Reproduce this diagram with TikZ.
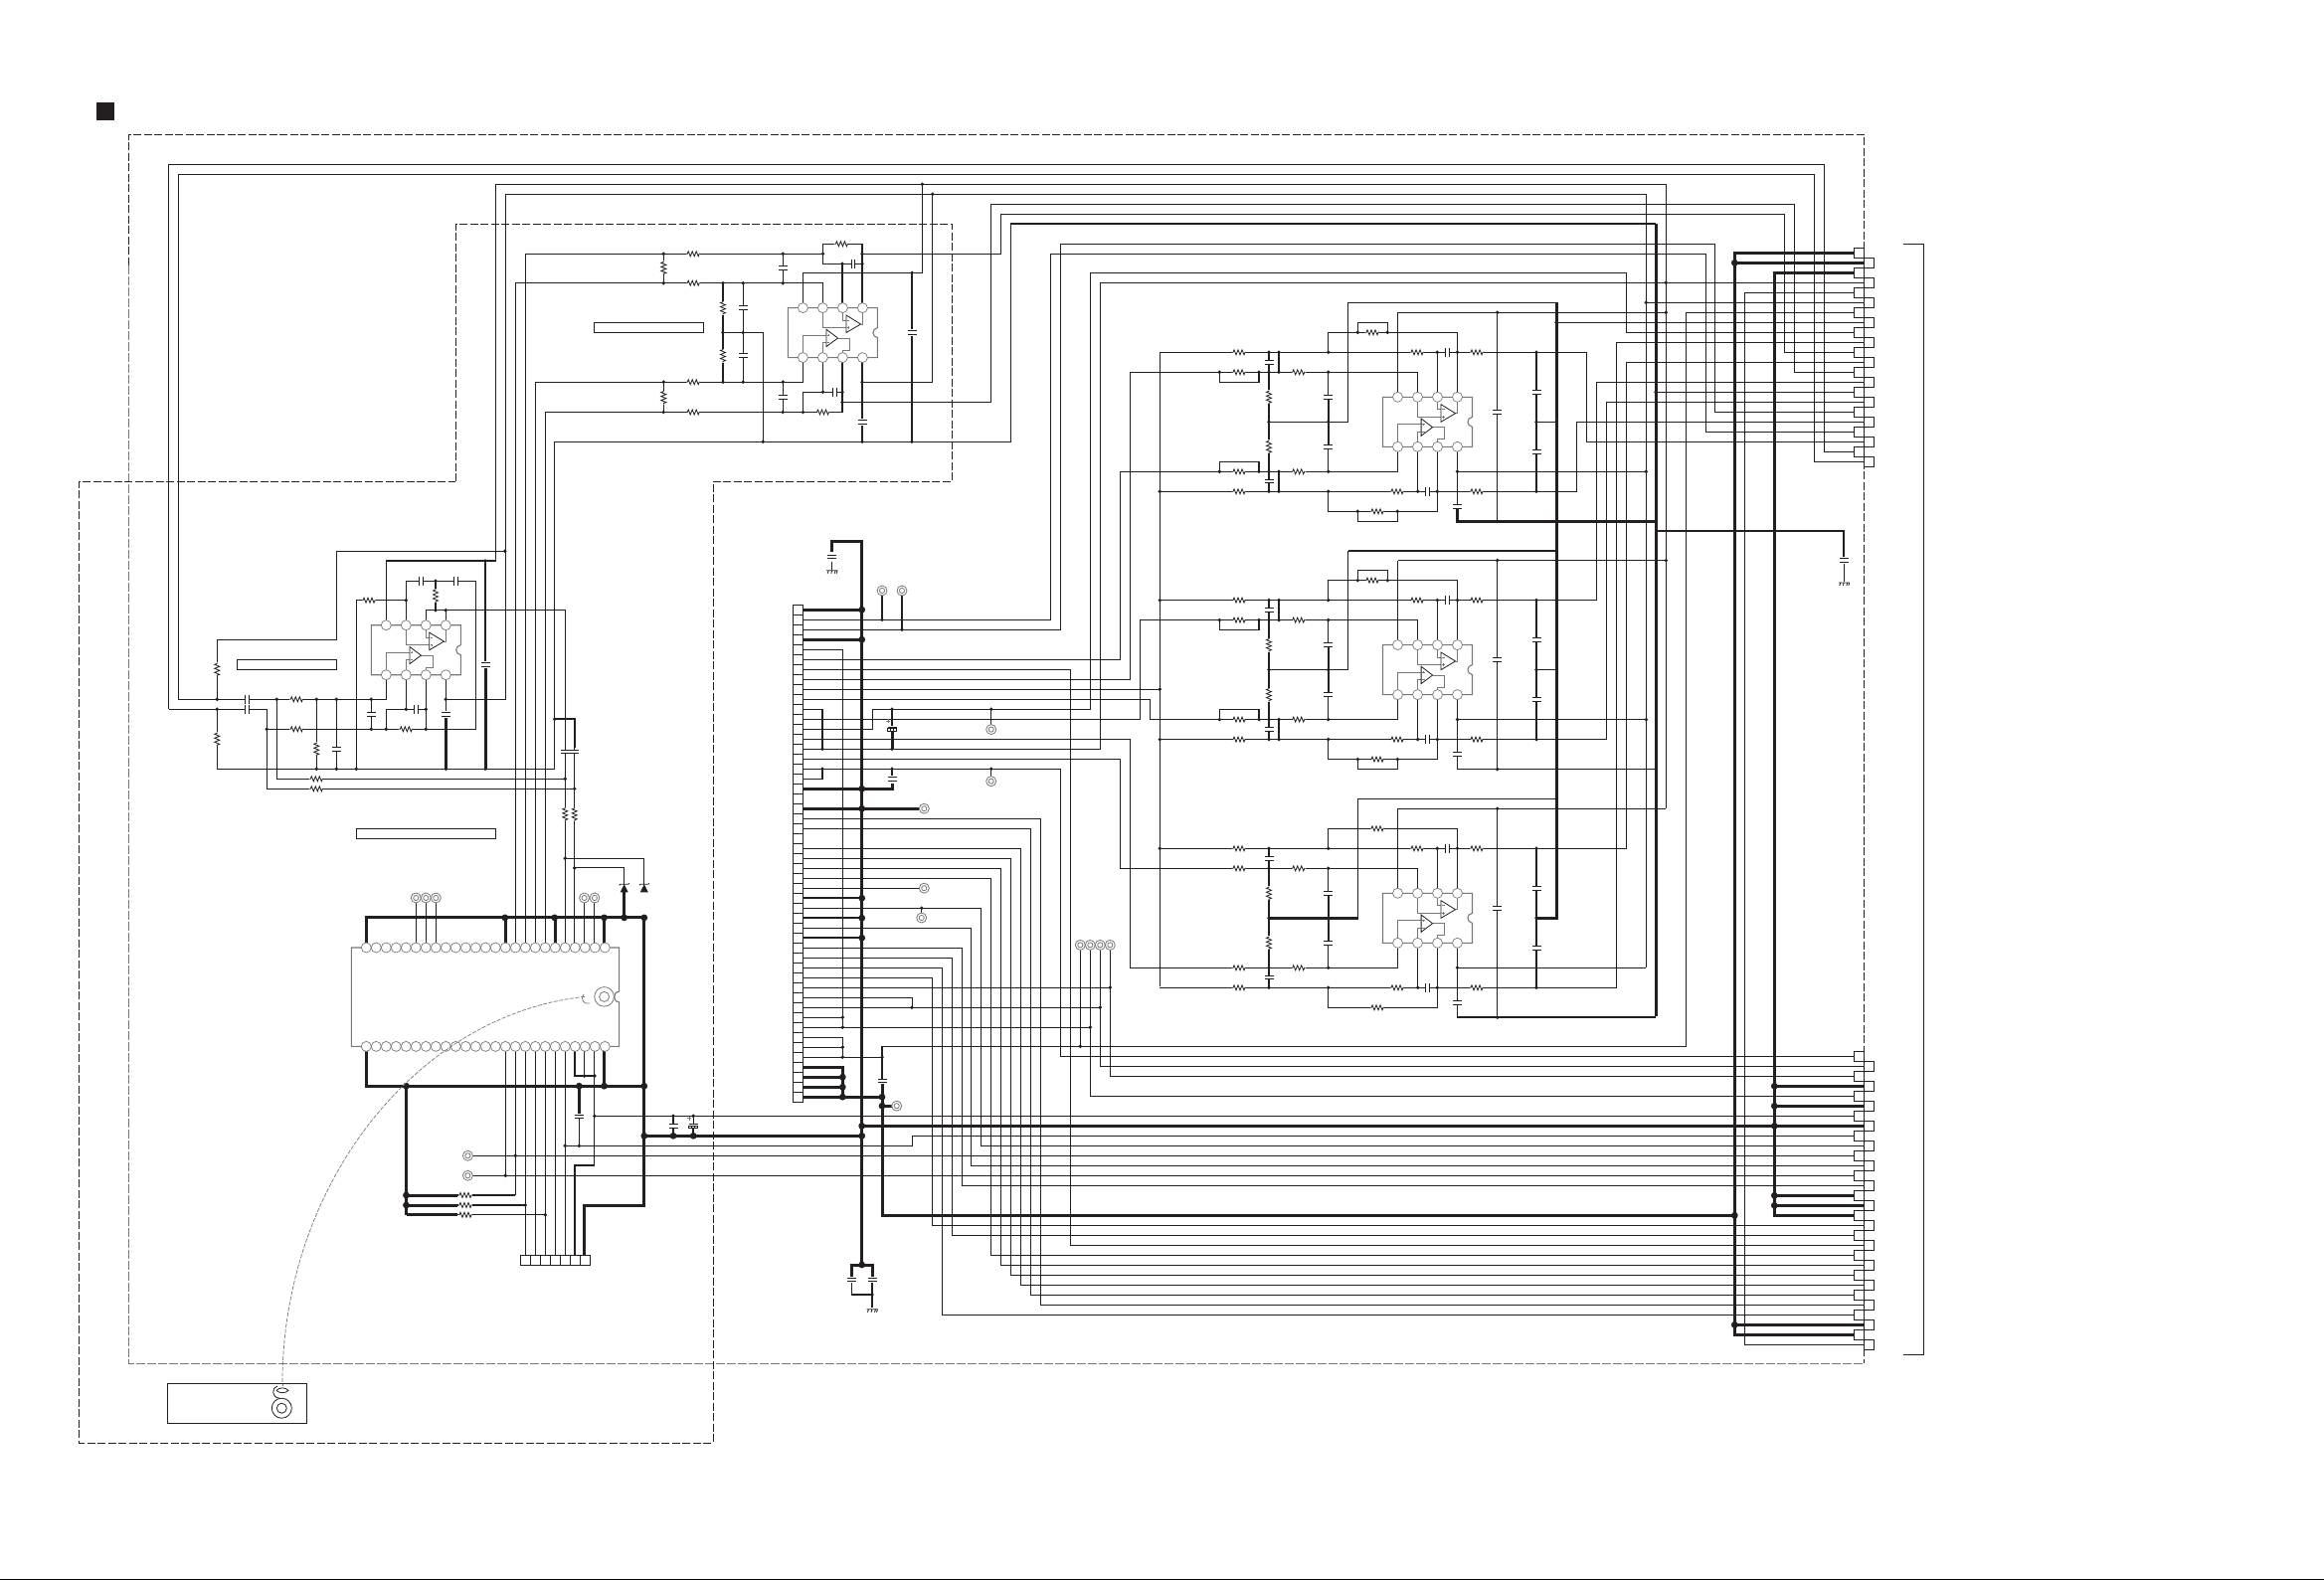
\documentclass[tikz,border=0pt]{standalone}
\definecolor{ink}{HTML}{231F20}
\definecolor{soft}{HTML}{77787B}
\tikzset{
 wire/.style={draw=ink,line width=1.1pt,line cap=square,line join=miter},
 wirem/.style={draw=ink,line width=1.8pt,line cap=square,line join=miter},
 wiret/.style={draw=ink,line width=3pt,line cap=square,line join=miter},
 comp/.style={draw=ink,line width=.8pt},
 capplate/.style={draw=ink,line width=1pt},
 soft line/.style={draw=soft,line width=.8pt},
 icbox/.style={draw=soft,line width=1.1pt,line join=miter},
 pinc/.style={circle,draw=soft,fill=white,line width=.7pt,inner sep=0pt,minimum size=10pt},
 dashd/.style={draw=ink,line width=.9pt,dash pattern=on 8pt off 2.5pt},
 dashg/.style={draw=soft,line width=1pt,dash pattern=on 9pt off 2pt},
 cell/.style={draw=ink,fill=white,line width=1pt},
}
\newcommand\Dots[1]{\foreach \a/\b in {#1}{\fill[ink] (\a,\b) circle (1.9pt);}}
\newcommand\Bdots[1]{\foreach \a/\b in {#1}{\fill[ink] (\a,\b) circle (3.4pt);}}
\newcommand\Rh[1]{\foreach \a/\b in {#1}{\begin{scope}[shift={(\a,\b)}]\fill[white] (-7,-1.2) rectangle (7,1.2);\draw[comp] (-7,0)--(-6,0)--(-5,-2.5)--(-3,2.5)--(-1,-2.5)--(1,2.5)--(3,-2.5)--(5,2.5)--(6,0)--(7,0);\end{scope}}}
\newcommand\Rv[1]{\foreach \a/\b in {#1}{\begin{scope}[shift={(\a,\b)}]\fill[white] (-1.2,-7) rectangle (1.2,7);\draw[comp] (0,-7)--(0,-6)--(-2.5,-5)--(2.5,-3)--(-2.5,-1)--(2.5,1)--(-2.5,3)--(2.5,5)--(0,6)--(0,7);\end{scope}}}
\newcommand\Cv[1]{\foreach \a/\b in {#1}{\begin{scope}[shift={(\a,\b)}]\fill[white] (-5,-1.6) rectangle (5,1.6);\draw[capplate] (-4.5,-1.8)--(4.5,-1.8) (-4.5,1.8)--(4.5,1.8);\end{scope}}}
\newcommand\Ch[1]{\foreach \a/\b in {#1}{\begin{scope}[shift={(\a,\b)}]\fill[white] (-1.6,-5) rectangle (1.6,5);\draw[capplate] (-1.8,-4.5)--(-1.8,4.5) (1.8,-4.5)--(1.8,4.5);\end{scope}}}
\newcommand\Cp[1]{\foreach \a/\b in {#1}{\begin{scope}[shift={(\a,\b)}]\fill[white] (-5,-2) rectangle (5,2);\draw[capplate] (-4.5,-2)--(4.5,-2);\draw[comp] (-4.5,2) rectangle (4.5,-.6) (-1.5,2)--(-1.5,-.6) (1.5,2)--(1.5,-.6);\draw[soft line] (-6,-8)--(-2,-8) (-4,-10)--(-4,-6);\end{scope}}}
\newcommand\TP[1]{\foreach \a/\b in {#1}{\filldraw[soft line,fill=white] (\a,\b) circle (5pt);\draw[soft line] (\a,\b) circle (2.6pt);}}
\newcommand\Gnd[1]{\foreach \a/\b in {#1}{\begin{scope}[shift={(\a,\b)}]\draw[comp] (-5.5,0)--(5.5,0) (-3.5,0)--(-4.5,3) (0,0)--(-1,3) (3.5,0)--(2.5,3) (5.5,0)--(4.5,3);\end{scope}}}
\newcommand\Zen[1]{\foreach \a/\b in {#1}{\begin{scope}[shift={(\a,\b)}]\fill[ink] (-4,4)--(4,4)--(0,-4)--cycle;\draw[comp] (-5,-3)--(-4,-4)--(4,-4)--(5,-5);\end{scope}}}
\newcommand\ICA[2]{\begin{scope}[shift={(#1,#2)}]
 \draw[icbox] (-15,0)--(75,0)--(75,20) .. controls (69,21) and (69,29) .. (75,30)--(75,50)--(-15,50)--cycle;
 \draw[soft line] (20,0)--(20,20)--(43.5,20) (40,0)--(40,12.4)--(43.5,12.4) (60,0)--(60,16.4)--(58.1,16.4);
 \draw[soft line] (0,50)--(0,27.4)--(23.6,27.4) (20,50)--(20,34.7)--(23.6,34.7) (35.1,30.4)--(47.3,30.4)--(47.3,42.4)--(40,42.4)--(40,50);
 \filldraw[comp,fill=white] (43.5,7.4)--(43.5,25)--(58.1,16.4)--cycle;
 \filldraw[comp,fill=white] (23.6,21.7)--(23.6,39)--(35.1,30.4)--cycle;
 \draw[soft line,line width=.5pt] (44.5,20)--(47,20) (45.7,18.8)--(45.7,21.2) (24.6,27.4)--(27,27.4) (25.8,26.2)--(25.8,28.6) (44.5,12.4)--(47,12.4) (24.6,34.7)--(27,34.7);
 \foreach \p in {0,20,40,60}{\node[pinc] at (\p,0) {};\node[pinc] at (\p,50) {};}
\end{scope}}
% one filter block; #1 = vertical offset, #2 = 1 for bypassed resistors, #3 = style of the bottom rail
\newcommand\Blk[3]{\begin{scope}[yshift=-#1pt]
 \draw[wire] (1166.3,354.3)--(1545,354.3) (1166.3,494.3)--(1545,494.3);
 \draw[wire] (1226.3,374.3)--(1425.7,374.3)--(1425.7,399.3);
 \draw[wire] (1226.3,474.3)--(1405.5,474.3)--(1405.5,449.3);
 \draw[wire] (1276,354.3)--(1276,494.3);
 \draw[wiret,line width=2.2pt] (1276,406)--(1276,443);
 \draw[wire] (1335.7,354.3)--(1335.7,334.3)--(1465.5,334.3)--(1465.5,399.3);
 \draw[wire] (1335.7,374.3)--(1335.7,474.3);
 \draw[wiret,line width=2.2pt] (1335.7,402)--(1335.7,447);
 \draw[wire] (1335.7,494.3)--(1335.7,514.3)--(1445.3,514.3)--(1445.3,449.3);
 \draw[wire] (1405.5,399.3)--(1405.5,314.3);
 \draw[wire] (1445.3,399.3)--(1445.3,354.3);
 \draw[wire] (1425.7,449.3)--(1425.7,494.3);
 \draw[wire] (1465.5,449.3)--(1465.5,512);
 \draw[wire] (1505.7,314.3)--(1505.7,524.3);
 \draw[wire] (1545,354.3)--(1545,494.3);
 \draw[wiret,line width=2.2pt] (1545,397)--(1545,451);
 \draw[wire] (1405.5,314.3)--(1675.3,314.3);
 \draw[wire] (1465.5,474.3)--(1655.3,474.3);
 \draw[#3] (1465.5,507)--(1465.5,524.3)--(1665,524.3);
 \ifnum#2=1
  \draw[wirem] (1286,354.3)--(1286,374.3) (1286,474.3)--(1286,494.3);
  \draw[wire] (1365.3,334.3)--(1365.3,324.3)--(1395.3,324.3)--(1395.3,334.3);
  \draw[wire] (1365.3,514.3)--(1365.3,524.3)--(1405.3,524.3)--(1405.3,514.3);
  \draw[wire] (1226.3,374.3)--(1226.3,384.3)--(1266,384.3)--(1266,374.3);
  \draw[wire] (1226.3,474.3)--(1226.3,464.3)--(1266,464.3)--(1266,474.3);
  \Dots{1286/354.3,1286/374.3,1286/474.3,1286/494.3,1365.3/334.3,1395.3/334.3,1365.3/514.3,1405.3/514.3,1226.3/374.3,1266/374.3,1226.3/474.3,1266/474.3}
  \Rh{1380/334.3}
 \else
  \Rh{1385/334.3}
 \fi
 \Dots{1276/354.3,1335.7/354.3,1445.3/354.3,1465.5/354.3,1545/354.3,1276/374.3,1335.7/374.3,1276/424.3,1335.7/424.3,1545/424.3,1276/474.3,1335.7/474.3,1465.5/474.3,1276/494.3,1335.7/494.3,1425.7/494.3,1445.3/494.3,1545/494.3,1505.7/314.3,1505.7/524.3}
 \Rh{1246/354.3,1425/354.3,1485/354.3,1246/374.3,1305.7/374.3,1246/474.3,1305.7/474.3,1246/494.3,1405/494.3,1485/494.3,1385/514.3}
 \Rv{1276/399.3,1276/449.3}
 \Cv{1276/364.3,1276/484,1335.7/399.3,1335.7/449.3,1465.5/509.3,1505.7/414.3,1545/394.3,1545/454.3}
 \Ch{1455.3/354.3,1435.7/494.3}
 \ICA{1405.5}{399.3}
\end{scope}}
\begin{document}
\begin{tikzpicture}[x=1pt,y=-1pt]
\useasboundingbox (0,0) rectangle (2337,1589);
\fill[white] (0,0) rectangle (2337,1589);
\foreach \i in {0,...,49}{\coordinate (j\i) at (807.7,{613.2+10*\i});}
\foreach \k in {0,...,21}{\pgfmathsetmacro\px{ifthenelse(mod(\k,2)==1,1874.5,1864.3)}\coordinate (t\k) at (\px,{254.3+10*\k});}
\foreach \k in {0,...,29}{\pgfmathsetmacro\px{ifthenelse(mod(\k,2)==1,1874.5,1864.3)}\coordinate (b\k) at (\px,{1062.3+10*\k});}
% frames
\fill[ink] (96.5,103) rectangle (115,121);
\draw[dashd] (129.5,267)--(129.5,135.3)--(1874.5,135.3)--(1874.5,1371);
\draw[dashg] (129.5,267)--(129.5,1371)--(1874.5,1371);
\draw[dashd] (458.4,484)--(458.4,225.4)--(957.8,225.4)--(957.8,484)--(717.3,484)--(717.3,1451)--(79.5,1451)--(79.5,484)--cycle;
\draw[comp,line width=1pt] (1914,245.3)--(1934.3,245.3)--(1934.3,1362.3)--(1914,1362.3);
\fill[black] (0,1588) rectangle (2337,1589);
% long bus wires
\draw[wire] (169.6,713.3)--(169.6,165.3)--(1834.3,165.3)--(1834.3,454.3)--(t20);
\draw[wire] (179.4,703.3)--(179.4,175.3)--(1824.3,175.3)--(1824.3,464.3)--(t21);
\draw[wire] (388.3,628.7)--(388.3,564)--(498.3,564)--(498.3,185.3)--(1675.3,185.3)--(1675.3,813.3);
\draw[wire] (448.3,703.3)--(508.3,703.3)--(508.3,195.3)--(1655.3,195.3)--(1655.3,973.3);
\draw[wire] (847,404.5)--(996.3,404.5)--(996.3,205.3)--(1804.3,205.3)--(1804.3,374.3)--(t12);
\draw[wire] (867,255.3)--(1006.3,255.3)--(1006.3,215.3)--(1794.3,215.3)--(1794.3,354.3)--(t10);
\draw[wire,line width=1.4pt] (557.7,773.3)--(557.7,444.3)--(1016.3,444.3)--(1016.3,225);
\draw[wiret,line width=2.4pt] (1016.3,225)--(1665,225);
\draw[wiret] (1665,225)--(1665,1022.3);
% left op-amp section
\draw[wire] (169.6,713.3)--(268.3,713.3)--(268.3,793.3)--(577.7,793.3);
\draw[wire] (179.4,703.3)--(388.3,703.3)--(388.3,678.3);
\draw[wire] (268.3,733.3)--(478.3,733.3)--(478.3,584.3)--(408.3,584.3)--(408.3,628.7);
\draw[wire] (278.3,703.3)--(278.3,783.3)--(568.3,783.3);
\draw[wire] (218.3,703.3)--(218.3,643.3)--(338.3,643.3)--(338.3,554.3)--(508.3,554.3);
\draw[wire] (218.3,713.3)--(218.3,773.3)--(557.7,773.3);
\draw[wire] (318.3,703.3)--(318.3,773.3) (338.3,703.3)--(338.3,773.3) (373.3,703.3)--(373.3,733.3);
\draw[wire] (358.3,773.3)--(358.3,603.7)--(408.3,603.7);
\draw[wire] (388.3,733.3)--(388.3,713.3)--(428.3,713.3) (408.3,678.3)--(408.3,713.3) (428.3,678.3)--(428.3,733.3);
\draw[wire] (448.3,678.3)--(448.3,715);
\draw[wiret] (448.3,722)--(448.3,773.3);
\draw[wire] (428.3,628.7)--(428.3,613.7)--(568.3,613.7)--(568.3,953);
\draw[wire] (448.3,613.7)--(448.3,628.7) (438,584.3)--(438,613.7);
\draw[wire] (488,564)--(488,665);
\draw[wiret] (488,672)--(488,773.3);
\draw[wirem] (557.7,723.3)--(577.7,723.3)--(577.7,752);
\draw[wire] (577.7,752)--(577.7,953);
\draw[wire] (568.3,863.2)--(647.8,863.2)--(647.8,890);
\draw[wire] (577.7,872.9)--(627.7,872.9)--(627.7,890);
\draw[wiret] (627.7,897)--(627.7,922.9);
\draw[wiret] (368.3,953)--(368.3,922.9)--(647.8,922.9)--(647.8,1212)--(587.6,1212)--(587.6,1262.6);
\draw[wiret] (508,922.9)--(508,950) (558,922.9)--(558,950) (607.6,922.9)--(607.6,950);
% upper op-amp section
\draw[wire] (518.3,953)--(518.3,284.7)--(827.5,284.7)--(827.5,309.6);
\draw[wire] (528.3,953)--(528.3,255.3)--(827.5,255.3);
\draw[wire] (538.3,953)--(538.3,384.2)--(807.4,384.2)--(807.4,359.4);
\draw[wire] (548.3,953)--(548.3,414.5)--(847,414.5)--(847,359.4);
\draw[wire] (827.5,245.3)--(827.5,265.2)--(867,265.2) (827.5,245.3)--(867,245.3)--(867,309.6) (847,265.2)--(847,309.6);
\draw[wire] (667.3,255.3)--(667.3,284.7) (787.3,255.3)--(787.3,284.7) (727,284.7)--(727,384.2) (747.2,284.7)--(747.2,384.2) (667.3,384.2)--(667.3,414.5) (787.3,384.2)--(787.3,414.5);
\draw[wire] (807.4,414.5)--(807.4,394.2)--(847,394.2) (827.5,359.4)--(827.5,394.2);
\draw[wire] (867,359.4)--(867,421);
\draw[wire] (867,384.2)--(937.7,384.2)--(937.7,195.3);
\draw[wire] (807.4,309.6)--(807.4,274.4)--(927.4,274.4)--(927.4,185.3);
\draw[wire] (917,274.4)--(917,331);
\draw[wiret,line width=2.4pt] (917,338)--(917,444.3) (867,428)--(867,444.3);
\draw[wire] (727,334.5)--(767.2,334.5)--(767.2,444.3);
% big IC wires
\draw[wire] (418.3,903)--(418.3,953) (428.3,903)--(428.3,953) (438.3,903)--(438.3,953) (587.6,903)--(587.6,953) (597.9,903)--(597.9,953);
\draw[wiret] (368.3,1052.4)--(368.3,1092.2)--(647.8,1092.2) (607.6,1052.4)--(607.6,1092.2);
\draw[wiret] (408.5,1092.2)--(408.5,1221.8);
\draw[wiret] (408.5,1202)--(460,1202) (408.5,1212)--(460,1212) (408.5,1221.8)--(460,1221.8);
\draw[wire] (460,1202)--(518.3,1202) (518.3,1052.4)--(518.3,1202) (460,1212)--(528.3,1212) (460,1221.8)--(548.3,1221.8);
\draw[wire] (508.3,1052.4)--(508.3,1182.3);
\foreach \x in {528.3,538.3,548.3,558.3,568.3}{\draw[wire] (\x,1052.4)--(\x,1262.6);}
\draw[wire] (578,1052.4)--(578,1082)--(597.9,1082) (587.6,1052.4)--(587.6,1082);
\draw[wire] (597.9,1052.4)--(597.9,1172)--(578,1172)--(578,1262.6);
\draw[wiret] (582.4,1092.2)--(582.4,1120);
\draw[wire] (582.4,1125)--(582.4,1152.3);
\draw[wiret] (647.8,1142.3)--(866.7,1142.3);
\draw[wire] (677,1122.3)--(677,1130) (697.2,1122.3)--(697.2,1130);
\draw[wiret,line width=2.4pt] (677,1135)--(677,1142.3) (697.2,1135)--(697.2,1142.3);
% J connector wires
\draw[wire] (j1)--(1056.3,623.2)--(1056.3,255.3)--(1715.3,255.3)--(1715.3,434.3)--(t18);
\draw[wire] (j2)--(1066.3,633.2)--(1066.3,245.3)--(1724.3,245.3)--(1724.3,414.3)--(t16);
\draw[wire] (j4)--(847.3,653.2)--(847.3,1033.2);
\draw[wire] (j5)--(1126.3,663.2)--(1126.3,474.3)--(1226.3,474.3);
\draw[wire] (j6)--(1076.3,673.2)--(1076.3,1252.3)--(b19);
\draw[wire] (j7)--(1136.3,683.2)--(1136.3,374.3)--(1226.3,374.3);
\draw[wire] (j8)--(1166.3,693.2);
\draw[wire] (1166.3,354.3)--(1166.3,992.3);
\draw[wire] (j9)--(1156.3,703.2)--(1156.3,723.6)--(1226.3,723.6);
\draw[wire] (j10)--(827,713.2);
\draw[wiret,line width=2.4pt] (827,713.2)--(827,753.2);
\draw[wire] (j11)--(1146.3,723.2)--(1146.3,623.6)--(1226.3,623.6);
\draw[wire] (j12)--(877.7,733.2)--(877.7,713.2)--(1096.3,713.2)--(1096.3,274.3)--(1635.3,274.3)--(1635.3,334.3)--(t8);
\draw[wire] (j13)--(1136.3,743.2)--(1136.3,973.3)--(1226.3,973.3);
\draw[wire] (j14)--(1106.3,753.2)--(1106.3,284.3)--(t3);
\draw[wire] (j15)--(1126.3,763.2)--(1126.3,873.3)--(1226.3,873.3);
\draw[wire] (j16)--(1066.3,773.2)--(1066.3,1062.3)--(b0);
\draw[wire] (j17)--(827,783.2)--(827,773.2);
\draw[wire] (j21)--(1046.3,823.2)--(1046.3,1312.3)--(b25);
\draw[wire] (j22)--(1036.3,833.2)--(1036.3,1302.3)--(b24);
\draw[wire] (j24)--(1026.3,853.2)--(1026.3,1292.3)--(b23);
\draw[wire] (j25)--(1016.3,863.2)--(1016.3,1282.3)--(b22);
\draw[wire] (j26)--(1006.3,873.2)--(1006.3,1272.3)--(b21);
\draw[wire] (j27)--(996.3,883.2)--(996.3,1262.3)--(b20);
\draw[wire] (j28)--(924.3,893.2);
\draw[wire] (j30)--(986.3,913.2)--(986.3,1152.3)--(b9);
\draw[wire] (j32)--(976.3,933.2)--(976.3,1172.3)--(b11);
\draw[wire] (j34)--(967.3,953.2)--(967.3,1192.3)--(b13);
\draw[wire] (j35)--(957.3,963.2)--(957.3,1242.3)--(b18);
\draw[wire] (j36)--(947.3,973.2)--(947.3,1322.3)--(b26);
\draw[wire] (j37)--(937.3,983.2)--(937.3,1232.3)--(b17);
\draw[wire] (j38)--(1116.3,993.2);
\draw[wire] (j39)--(917.3,1003.2)--(917.3,1013.2);
\draw[wire] (j40)--(1106.3,1013.2);
\draw[wire] (j41)--(847.3,1023.2);
\draw[wire] (j42)--(1096.3,1033.2);
\draw[wire] (j43)--(847.3,1043.2)--(847.3,1063.2);
\draw[wire] (j44)--(847.3,1053.2);
\draw[wire] (j45)--(887,1063.2);
\draw[wire] (887,1063.2)--(887,1052.3)--(1695.5,1052.3)--(1695.5,314.3)--(t6);
\draw[wire] (887,1063.2)--(887,1085);
\draw[wiret] (j0)--(866.7,613.2) (j3)--(866.7,643.2);
\draw[wiret] (j18)--(897,793.2)--(897,788);
\draw[wire] (897,773.2)--(897,780);
\draw[wiret] (897,736)--(897,753.2);
\draw[wire] (897,713.2)--(897,730);
\draw[wiret] (j20)--(924,813.2);
\draw[wirem] (j29)--(866.7,903.2) (j31)--(866.7,923.2) (j33)--(866.7,943.2);
\draw[wiret] (j46)--(847.3,1073.2)--(847.3,1103.2) (j47)--(847.3,1083.2) (j48)--(847.3,1093.2);
\draw[wiret] (j49)--(887,1103.2)--(887,1222.3)--(1744.3,1222.3);
\draw[wiret] (887,1090)--(887,1103.2) (887,1112.2)--(897,1112.2);
\draw[wiret] (836.7,555)--(836.7,544)--(866.7,544)--(866.7,1272)--(877,1272)--(877,1284);
\draw[wiret] (866.7,1272)--(856.8,1272)--(856.8,1284);
\draw[wire] (856.8,1290)--(856.8,1302)--(877,1302) (877,1290)--(877,1315) (836.7,565)--(836.7,573);
\draw[wire] (887,594)--(887,623.2) (907,594)--(907,633.2) (996.7,713.2)--(996.7,733.6) (996.7,773.2)--(996.7,785.7) (926.7,913.2)--(926.7,923);
% test point columns
\draw[wire] (1086.3,950.4)--(1086.3,1052.3);
\draw[wire] (1096.3,950.4)--(1096.3,1102.3)--(b4);
\draw[wire] (1106.3,950.4)--(1106.3,1072.3)--(b1);
\draw[wire] (1116.3,950.4)--(1116.3,1082.3)--(b2);
% rows to the lower connector
\draw[wire] (470.4,1162.3)--(b10);
\draw[wire] (470.4,1182.3)--(b12);
\draw[wire] (597.9,1122.3)--(b6);
\draw[wire] (568.3,1152.3)--(917.3,1152.3)--(917.3,1142.3)--(b8);
\draw[wiret] (866.7,1132.3)--(b7);
% block interconnect
\draw[wire] (1276,424.3)--(1355.3,424.3)--(1355.3,304.3)--(1565,304.3);
\draw[wiret,line width=2.4pt] (1355.7,554)--(1565,554);
\draw[wire] (1276,673.6)--(1355.7,673.6)--(1355.7,554);
\draw[wiret] (1276,923.3)--(1365.7,923.3);
\draw[wire] (1365.7,923.3)--(1365.7,803.3)--(1565,803.3);
\draw[wiret] (1565,304.3)--(1565,923.3)--(1545,923.3);
\draw[wire] (1545,424.3)--(1565,424.3) (1545,673.6)--(1565,673.6);
\draw[wire] (1565,324.3)--(t7);
\draw[wire] (1545,354.3)--(1595.3,354.3)--(1595.3,444.3)--(t19);
\draw[wire] (1545,494.3)--(1585.3,494.3)--(1585.3,424.3)--(t17);
\draw[wire] (1545,603.6)--(1605.3,603.6)--(1605.3,384.3)--(t13);
\draw[wire] (1545,743.6)--(1615.3,743.6)--(1615.3,404.3)--(t15);
\draw[wire] (1545,853.3)--(1635.3,853.3)--(1635.3,364.3)--(t11);
\draw[wire] (1545,993.3)--(1625.3,993.3)--(1625.3,344.3)--(t9);
\draw[wire] (1655.3,304.3)--(t5);
\draw[wire] (1665,394.3)--(t14);
\draw[wirem] (1665,534)--(1854.3,534)--(1854.3,560);
\draw[wire] (1854.3,567)--(1854.3,585);
% main verticals at the right
\draw[wiret] (t0)--(1744.3,254.3)--(1744.3,1342.3)--(b28);
\draw[wiret] (1744.3,264.3)--(t1) (1744.3,1332.3)--(b27);
\draw[wiret] (t2)--(1784.3,274.3)--(1784.3,1222.3)--(b16);
\draw[wiret] (1784.3,1092.3)--(b3) (1784.3,1112.3)--(b5) (1784.3,1202.3)--(b14) (1784.3,1212.3)--(b15);
\draw[wire] (t4)--(1754.3,294.3)--(1754.3,1352.3)--(b29);
% blocks
\Blk{0}{1}{wiret}
\Blk{249.3}{1}{wire}
\Blk{499}{0}{wirem}
% junctions, small
\Dots{218.3/703.3,218.3/713.3,278.3/703.3,318.3/703.3,338.3/703.3,373.3/703.3,268.3/733.3,373.3/733.3,388.3/733.3,428.3/733.3,318.3/773.3,338.3/773.3,358.3/773.3,448.3/773.3,488/773.3,408.3/713.3,428.3/713.3,448.3/703.3,507.7/554.3,488/564,408.3/603.7,438/584.3,438/613.7,448.3/613.7,568.3/783.3,577.7/793.3,568.3/863.2,577.7/872.9,557.7/723.3}
\Dots{667.3/255.3,667.3/284.7,787.3/255.3,787.3/284.7,727/284.7,747.2/284.7,727/334.5,747.2/334.5,727/384.2,747.2/384.2,667.3/384.2,787.3/384.2,667.3/414.5,787.3/414.5,807.4/414.5,827.5/255.3,867/255.3,847/265.2,867/265.2,917/274.4,927.4/185.3,937.7/195.3,827.5/394.2,847/394.2,847/404.5,867/384.2,767.2/444.3,867/444.3,917/444.3}
\Dots{887/623.2,907/633.2,897/713.2,996.7/713.2,827/753.2,897/753.2,827/773.2,897/773.2,996.7/773.2,926.7/913.2,917/1013.2,847.3/1023.2,847.3/1033.2,847.3/1053.2,847.3/1063.2,887/1063.2,1116.3/993.2,1106.3/1013.2,1096.3/1033.2,1086.3/1052.3,1166.3/693.2,1166.3/603.6,1166.3/743.6,1166.3/853.3,1166.3/494.3}
\Dots{518.3/1162.3,508.3/1182.3,528.3/1212,548.3/1221.8,587.6/1082,597.9/1082,597.9/1122.3,568.3/1152.3,582.4/1152.3,677/1122.3,697.2/1122.3,877/1302}
\Dots{1655.3/304.3,1655.3/474.3,1655.3/723.6,1675.3/284.3,1665/284.3,1675.3/314.3,1675.3/563.6,1565/324.3,1565/424.3,1565/554,1565/673.6,1565/803.3,1665/394.3,1665/524.3,1665/773.3}
\Bdots{866.7/613.2,866.7/643.2,866.7/793.2,866.7/813.2,866.7/903.2,866.7/923.2,866.7/943.2,847.3/1083.2,847.3/1093.2,847.3/1103.2,887/1103.2,887/1112.2,866.7/1272,866.7/1132.3,866.7/1142.3,1744.3/264.3,1744.3/1222.3,1744.3/1332.3,1784.3/1092.3,1784.3/1112.3,1784.3/1132.3,1784.3/1202.3,1784.3/1212.3,677/1142.3,697.2/1142.3}
\Bdots{507.8/922.9,557.7/922.9,607.6/922.9,627.7/922.9,647.8/922.9,408.5/1092.2,582.4/1092.2,607.6/1092.2,647.8/1092.2,647.8/1142.3,408.5/1202,408.5/1212}
% resistors and capacitors
\Rv{218.3/673.3,218.3/743.3,318.3/753.3,438/599,568.3/818.8,577.7/818.8,667.3/269.4,667.3/399.6,727/309.6,727/357.5}
\Rh{298.3/703.3,298.3/733.3,408.3/733.3,371/603.7,318.3/783.3,318.3/793.3,468/1202,468/1212,468/1221.8,697.2/255.3,697.2/284.7,697.2/384.2,697.2/414.5,846.4/245.3,827.5/414.5}
\Ch{248.3/703.3,248.3/713.3,418.3/713.3,423.3/584.3,458.3/584.3,857.9/265.2,839.5/394.2}
\Cv{338.3/753.3,373.3/718.3,448.3/718.3,488/668.3,568.3/756,577.7/756,787.3/269.4,787.3/399.6,747.2/309.6,747.2/357.5,867/424.4,917/334.5,836.7/560,856.8/1287,877/1287,887/1087,897/783.2,582.4/1122.8,677/1132.5,1854.3/563.6}
\Cp{897/733.4,697.2/1132.5}
\Gnd{836.7/573.7,877/1316.7,1854.3/586}
\Zen{627.7/893.3,647.8/893.3}
% ICs
\ICA{388.3}{628.7}
\ICA{807.4}{309.6}
% big IC
\draw[icbox] (353.3,953)--(622.6,953)--(622.6,997) .. controls (616,998) and (616,1007) .. (622.6,1008)--(622.6,1052.4)--(353.3,1052.4)--cycle;
\foreach \n in {0,...,24}{
 \node[pinc] (ut\n) at ({368.3+10*\n},953) {};
 \node[pinc] (ub\n) at ({368.3+10*\n},1052.4) {};}
\draw[soft line] (607.6,1002.4) circle (9.8pt) (607.6,1002.4) circle (5pt);
\draw[soft line] (593,1009) .. controls (587,1011) and (583,1004) .. (587,1000);
\draw[dashg,line width=.7pt,dash pattern=on 4pt off 1.5pt] (588,1002.4) .. controls (420,1020) and (284,1190) .. (283.9,1391.7);
% label boxes
\draw[cell] (597.3,324.6) rectangle (707.5,334.5);
\draw[cell] (238.3,663.3) rectangle (338.3,673.3);
\draw[cell] (358.5,833.6) rectangle (498.6,843.3);
\draw[cell] (168.5,1391.7) rectangle (308.6,1431.5);
\draw[soft line] (283.9,1391.7)--(283.9,1394);
\draw[comp] (283.3,1416.2) circle (10pt) (283.3,1416.2) circle (5pt);
\draw[comp] (278,1398.4) .. controls (281,1395) and (287,1395) .. (290,1398.4) .. controls (287,1401.5) and (281,1401.5) .. (278,1398.4);
\draw[comp] (281,1406) .. controls (273,1406) and (273,1395) .. (279,1394);
% test points
\TP{887/594,907/594,996.7/733.6,996.7/785.7,929.3/813.2,929.3/893.2,926.7/923,901.7/1112.2,1086.3/950.4,1096.3/950.4,1106.3/950.4,1116.3/950.4,470.4/1162.3,470.4/1182.3,418.3/903,428.3/903,438.3/903,587.6/903,597.9/903}
% connectors
\foreach \i in {0,...,49}{\draw[cell,line width=.8pt] (797.3,{608.2+10*\i}) rectangle (807.7,{618.2+10*\i});}
\foreach \k in {0,...,21}{\pgfmathsetmacro\px{ifthenelse(mod(\k,2)==1,1874.5,1864.3)}\draw[cell] (\px,{249.3+10*\k}) rectangle ++(10.2,10);}
\foreach \k in {0,...,29}{\pgfmathsetmacro\px{ifthenelse(mod(\k,2)==1,1874.5,1864.3)}\draw[cell] (\px,{1057.3+10*\k}) rectangle ++(10.2,10);}
\foreach \c in {0,...,6}{\draw[cell,line width=.8pt] ({523.3+10*\c},1262.6) rectangle ++(10,9.3);}
\end{tikzpicture}
\end{document}
